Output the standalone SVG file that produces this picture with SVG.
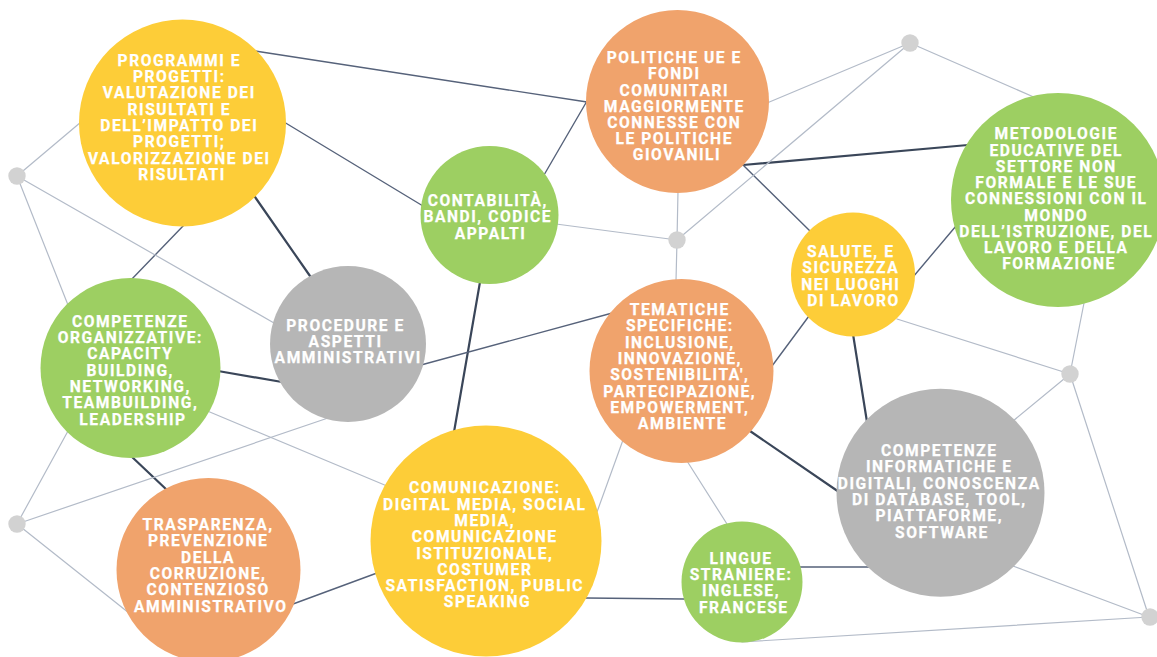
<svg xmlns="http://www.w3.org/2000/svg" width="1157" height="657" viewBox="0 0 1157 657">
  <style>
    .bg { fill: #ffffff; }
    .thick { stroke: #3a4659; stroke-width: 2.2; fill: none; stroke-linecap: round; }
    .mid { stroke: #56627a; stroke-width: 1.4; fill: none; stroke-linecap: round; }
    .thin { stroke: #b3bbc8; stroke-width: 1.2; fill: none; stroke-linecap: round; }
    .yellow { fill: #fdcd38; }
    .orange { fill: #f0a36c; }
    .green { fill: #9dcf62; }
    .grey { fill: #b6b6b6; }
    .dot { fill: #d2d2d2; }
    .label { font-family: Roboto, "Liberation Sans", sans-serif; font-weight: 700; font-size: 15.6px; letter-spacing: 1.55px; fill: #ffffff; stroke: #ffffff; stroke-width: 0.25px; text-anchor: middle; }
  </style>

  <rect class="bg" x="0" y="0" width="1157" height="657"/>

  <!-- connectors, drawn beneath the circles -->
  <g id="connectors">
    <!-- strong links -->
    <line class="thick" x1="255" y1="197" x2="310" y2="276"/>
    <line class="thick" x1="218" y1="371" x2="282" y2="382"/>
    <line class="thick" x1="131" y1="456" x2="168" y2="491"/>
    <line class="thick" x1="480" y1="282" x2="454" y2="432"/>
    <line class="thick" x1="743" y1="165" x2="968" y2="145"/>
    <line class="thick" x1="853" y1="334" x2="867" y2="422"/>
    <line class="thick" x1="750" y1="431" x2="839" y2="492"/>
    <!-- medium links -->
    <line class="mid" x1="255" y1="51" x2="587" y2="102"/>
    <line class="mid" x1="284" y1="122" x2="423" y2="206"/>
    <line class="mid" x1="184" y1="225" x2="131" y2="280"/>
    <line class="mid" x1="544" y1="175" x2="587" y2="101"/>
    <line class="mid" x1="743" y1="165" x2="810" y2="231"/>
    <line class="mid" x1="913" y1="277" x2="956" y2="226"/>
    <line class="mid" x1="809" y1="316" x2="772" y2="366"/>
    <line class="mid" x1="421" y1="365" x2="616" y2="312"/>
    <line class="mid" x1="293" y1="604" x2="377" y2="573"/>
    <line class="mid" x1="586" y1="598" x2="684" y2="599"/>
    <line class="mid" x1="799" y1="567" x2="869" y2="567"/>
    <!-- light links -->
    <line class="thin" x1="17" y1="176" x2="81" y2="122"/>
    <line class="thin" x1="17" y1="176" x2="274" y2="323"/>
    <line class="thin" x1="17" y1="176" x2="68" y2="305"/>
    <line class="thin" x1="68" y1="431" x2="17" y2="524"/>
    <line class="thin" x1="17" y1="524" x2="328" y2="418"/>
    <line class="thin" x1="17" y1="524" x2="129" y2="613"/>
    <line class="thin" x1="205" y1="410" x2="387" y2="486"/>
    <line class="thin" x1="556" y1="224" x2="677" y2="240"/>
    <line class="thin" x1="678" y1="191" x2="677" y2="240"/>
    <line class="thin" x1="677" y1="240" x2="676" y2="281"/>
    <line class="thin" x1="677" y1="240" x2="910" y2="43"/>
    <line class="thin" x1="767" y1="103" x2="910" y2="43"/>
    <line class="thin" x1="910" y1="43" x2="1036" y2="98"/>
    <line class="thin" x1="897" y1="319" x2="1070" y2="374"/>
    <line class="thin" x1="1084" y1="303" x2="1070" y2="374"/>
    <line class="thin" x1="1013" y1="421" x2="1070" y2="374"/>
    <line class="thin" x1="1013" y1="566" x2="1149" y2="617"/>
    <line class="thin" x1="1070" y1="374" x2="1149" y2="617"/>
    <line class="thin" x1="742" y1="642" x2="1149" y2="617"/>
    <line class="thin" x1="687" y1="461" x2="727" y2="524"/>
    <line class="thin" x1="623" y1="440" x2="597" y2="512"/>
  </g>

  <!-- junction points -->
  <g id="junction-west-upper"><circle class="dot" cx="17" cy="176" r="8.7"/></g>
  <g id="junction-west-lower"><circle class="dot" cx="17" cy="524" r="8.7"/></g>
  <g id="junction-centre"><circle class="dot" cx="677" cy="240" r="8.7"/></g>
  <g id="junction-north"><circle class="dot" cx="910" cy="43" r="8.7"/></g>
  <g id="junction-east"><circle class="dot" cx="1070" cy="374" r="8.7"/></g>
  <g id="junction-south-east"><circle class="dot" cx="1150" cy="617" r="8.7"/></g>

  <!-- topic nodes -->
  <g id="node-programmi">
    <circle class="yellow" cx="182.5" cy="123" r="103.5"/>
    <text class="label">
      <tspan x="182" y="65.7">PROGRAMMI E</tspan>
      <tspan x="182" y="82">PROGETTI:</tspan>
      <tspan x="182" y="98.3">VALUTAZIONE DEI</tspan>
      <tspan x="182" y="114.6">RISULTATI E</tspan>
      <tspan x="182" y="130.9">DELL’IMPATTO DEI</tspan>
      <tspan x="182" y="147.2">PROGETTI;</tspan>
      <tspan x="182" y="163.5">VALORIZZAZIONE DEI</tspan>
      <tspan x="182" y="179.8">RISULTATI</tspan>
    </text>
  </g>

  <g id="node-politiche">
    <circle class="orange" cx="677.5" cy="101.5" r="91.5"/>
    <text class="label">
      <tspan x="677" y="63.3">POLITICHE UE E</tspan>
      <tspan x="677" y="79.4">FONDI</tspan>
      <tspan x="677" y="95.5">COMUNITARI</tspan>
      <tspan x="677" y="111.6">MAGGIORMENTE</tspan>
      <tspan x="677" y="127.7">CONNESSE CON</tspan>
      <tspan x="677" y="143.8">LE POLITICHE</tspan>
      <tspan x="677" y="159.9">GIOVANILI</tspan>
    </text>
  </g>

  <g id="node-contabilita">
    <circle class="green" cx="489.5" cy="215" r="69"/>
    <text class="label">
      <tspan x="490.5" y="206">CONTABILITÀ,</tspan>
      <tspan x="490.5" y="222.3">BANDI, CODICE</tspan>
      <tspan x="490.5" y="238.6">APPALTI</tspan>
    </text>
  </g>

  <g id="node-metodologie">
    <circle class="green" cx="1058" cy="200" r="107"/>
    <text class="label">
      <tspan x="1059" y="139.3">METODOLOGIE</tspan>
      <tspan x="1059" y="155.55">EDUCATIVE DEL</tspan>
      <tspan x="1059" y="171.8">SETTORE NON</tspan>
      <tspan x="1059" y="188.05">FORMALE E LE SUE</tspan>
      <tspan x="1059" y="204.3">CONNESSIONI CON IL</tspan>
      <tspan x="1059" y="220.55">MONDO</tspan>
      <tspan x="1059" y="236.8">DELL’ISTRUZIONE, DEL</tspan>
      <tspan x="1059" y="253.05">LAVORO E DELLA</tspan>
      <tspan x="1059" y="269.3">FORMAZIONE</tspan>
    </text>
  </g>

  <g id="node-salute">
    <circle class="yellow" cx="853" cy="274.5" r="62"/>
    <text class="label">
      <tspan x="853.5" y="256.7">SALUTE, E</tspan>
      <tspan x="853.5" y="273.1">SICUREZZA</tspan>
      <tspan x="853.5" y="289.5">NEI LUOGHI</tspan>
      <tspan x="853.5" y="305.9">DI LAVORO</tspan>
    </text>
  </g>

  <g id="node-competenze-organizzative">
    <circle class="green" cx="130.5" cy="368" r="90"/>
    <text class="label">
      <tspan x="133" y="326.7">COMPETENZE</tspan>
      <tspan x="133" y="343">ORGANIZZATIVE:</tspan>
      <tspan x="133" y="359.3">CAPACITY</tspan>
      <tspan x="133" y="375.6">BUILDING,</tspan>
      <tspan x="133" y="391.9">NETWORKING,</tspan>
      <tspan x="133" y="408.2">TEAMBUILDING,</tspan>
      <tspan x="133" y="424.5">LEADERSHIP</tspan>
    </text>
  </g>

  <g id="node-procedure">
    <circle class="grey" cx="348" cy="344" r="78"/>
    <text class="label">
      <tspan x="348.3" y="331">PROCEDURE E</tspan>
      <tspan x="348.3" y="347.2">ASPETTI</tspan>
      <tspan x="348.3" y="363.4">AMMINISTRATIVI</tspan>
    </text>
  </g>

  <g id="node-tematiche">
    <circle class="orange" cx="681.5" cy="371" r="92"/>
    <text class="label">
      <tspan x="682.5" y="315">TEMATICHE</tspan>
      <tspan x="682.5" y="331.3">SPECIFICHE:</tspan>
      <tspan x="682.5" y="347.6">INCLUSIONE,</tspan>
      <tspan x="682.5" y="363.9">INNOVAZIONE,</tspan>
      <tspan x="682.5" y="380.2">SOSTENIBILITA',</tspan>
      <tspan x="682.5" y="396.5">PARTECIPAZIONE,</tspan>
      <tspan x="682.5" y="412.8">EMPOWERMENT,</tspan>
      <tspan x="682.5" y="429.1">AMBIENTE</tspan>
    </text>
  </g>

  <g id="node-trasparenza">
    <circle class="orange" cx="208.5" cy="570" r="92"/>
    <text class="label">
      <tspan x="210.8" y="530">TRASPARENZA,</tspan>
      <tspan x="210.8" y="546.3">PREVENZIONE</tspan>
      <tspan x="210.8" y="562.6">DELLA</tspan>
      <tspan x="210.8" y="578.9">CORRUZIONE,</tspan>
      <tspan x="210.8" y="595.2">CONTENZIOSO</tspan>
      <tspan x="210.8" y="611.5">AMMINISTRATIVO</tspan>
    </text>
  </g>

  <g id="node-comunicazione">
    <circle class="yellow" cx="486" cy="541" r="115.5"/>
    <text class="label">
      <tspan x="487.5" y="493.3">COMUNICAZIONE:</tspan>
      <tspan x="487.5" y="509.6">DIGITAL MEDIA, SOCIAL</tspan>
      <tspan x="487.5" y="525.9">MEDIA,</tspan>
      <tspan x="487.5" y="542.2">COMUNICAZIONE</tspan>
      <tspan x="487.5" y="558.5">ISTITUZIONALE,</tspan>
      <tspan x="487.5" y="574.8">COSTUMER</tspan>
      <tspan x="487.5" y="591.1">SATISFACTION, PUBLIC</tspan>
      <tspan x="487.5" y="607.4">SPEAKING</tspan>
    </text>
  </g>

  <g id="node-lingue">
    <circle class="green" cx="742" cy="582" r="60.5"/>
    <text class="label">
      <tspan x="743.8" y="564">LINGUE</tspan>
      <tspan x="743.8" y="580.2">STRANIERE:</tspan>
      <tspan x="743.8" y="596.4">INGLESE,</tspan>
      <tspan x="743.8" y="612.6">FRANCESE</tspan>
    </text>
  </g>

  <g id="node-competenze-informatiche">
    <circle class="grey" cx="940.5" cy="492.7" r="104"/>
    <text class="label">
      <tspan x="942" y="456">COMPETENZE</tspan>
      <tspan x="942" y="472.3">INFORMATICHE E</tspan>
      <tspan x="942" y="488.6">DIGITALI, CONOSCENZA</tspan>
      <tspan x="942" y="504.9">DI DATABASE, TOOL,</tspan>
      <tspan x="942" y="521.2">PIATTAFORME,</tspan>
      <tspan x="942" y="537.5">SOFTWARE</tspan>
    </text>
  </g>
</svg>
